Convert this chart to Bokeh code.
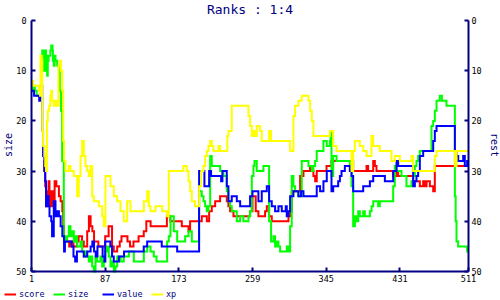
import math
from bokeh.plotting import figure
from bokeh.models import Range1d, LinearAxis, FixedTicker, Legend, LegendItem, Label
from bokeh.embed import file_html
from bokeh.resources import INLINE

# ---- data: (x where the rank starts, rank) step points per series ----
score_pts = [(15, 28), (16, 30), (17, 33), (18, 37), (19, 34), (20, 36), (21, 32), (22, 37), (23, 34), (24, 36),
             (25, 37), (26, 34), (27, 36), (28, 32), (30, 33), (33, 35), (35, 36), (37, 38), (38, 41), (39, 44),
             (45, 45), (47, 44), (50, 45), (54, 44), (56, 43), (60, 44), (62, 45), (66, 42), (68, 39), (70, 41),
             (72, 42), (74, 44), (79, 45), (87, 43), (91, 41), (95, 45), (97, 46), (101, 45), (104, 44), (106, 43),
             (113, 44), (116, 45), (120, 44), (126, 43), (132, 42), (135, 40), (140, 41), (159, 39), (163, 40),
             (176.4, 41), (184.2, 42), (186.1, 40), (199.7, 39), (205.6, 40), (208.3, 38), (211.4, 37), (215.3, 36),
             (221.1, 35), (228.9, 36), (230.8, 37), (232.8, 38), (236.7, 39), (256.1, 38), (258.9, 35), (262.7, 38),
             (265.8, 39), (273.6, 38), (275.6, 37), (278.3, 39), (281.4, 40), (300.9, 39), (302.8, 38), (304.7, 34),
             (314.5, 31), (318.4, 30), (326.1, 29), (328.1, 30), (330, 31), (332, 32), (333.9, 30), (345.3, 29),
             (351.1, 28), (376.4, 30), (392, 29), (393.9, 30), (399.8, 28), (401.7, 29), (403.6, 30), (423.1, 31),
             (427, 30), (428.9, 31), (446.4, 32), (454.2, 33), (458.1, 32), (460, 33), (462, 32), (465.9, 33),
             (469.8, 34), (471.7, 29), (511, 29)]

size_pts = [(1, 14), (3, 13), (5, 14), (7, 15), (12.5, 10), (13.5, 6), (15, 7), (16, 10), (17, 6), (18, 7),
            (19.3, 11), (20, 8), (21, 7), (23, 6), (24, 5), (25.5, 6), (26, 8), (27, 9), (28, 7), (29, 8),
            (31, 9), (33, 10), (34, 14), (35.5, 18), (36.8, 28), (38.7, 43), (40.7, 44), (42.6, 43), (44.6, 41),
            (46.5, 43), (48.5, 42), (50.4, 44), (52.3, 43), (54.3, 45), (58.2, 44), (60.1, 46), (62.1, 47),
            (64, 46), (66, 47), (67.9, 48), (69.8, 47), (71.8, 49), (73.7, 50), (75.7, 47), (77.6, 48), (81.5, 47),
            (83.5, 49), (85.4, 48), (87.3, 46), (89.3, 45), (91.2, 47), (93.2, 49), (95.1, 48), (97.1, 50),
            (99, 49), (101, 47), (104.9, 48), (108.7, 47), (114.6, 46), (120.4, 48), (132.1, 46), (136, 45),
            (139.9, 46), (143.7, 47), (146.9, 48), (159.3, 44), (161.2, 43), (163.2, 39), (167.1, 42), (171, 44),
            (180.3, 43), (184.2, 42), (188.1, 44), (196.6, 34), (199.7, 35), (201.7, 36), (203.6, 37), (205.6, 38),
            (207.5, 37), (209.5, 27), (211.4, 29), (221.1, 30), (225, 31), (228.9, 34), (230.8, 36), (232.8, 37),
            (234.7, 38), (240.6, 40), (244.5, 39), (248.3, 40), (254.2, 39), (256.1, 38), (258.1, 31), (260, 29),
            (261.2, 28), (263.9, 30), (271.7, 29), (278.3, 40), (280.6, 44), (283.4, 43), (285.3, 45), (287.2, 44),
            (289.2, 45), (291.1, 46), (298.9, 45), (300.9, 46), (302.8, 41), (304.7, 31), (306.7, 33), (308.6, 34),
            (312.5, 35), (316.4, 28), (324.2, 29), (328.1, 30), (330, 29), (332, 28), (333.9, 26), (341.7, 24),
            (345.6, 25), (349.2, 24), (350, 22), (351.1, 31), (353.1, 27), (357, 28), (372.5, 29), (374.5, 33),
            (376.4, 41), (378.4, 39), (380.3, 40), (382.3, 38), (384.2, 39), (388.1, 38), (390, 39), (395.9, 38),
            (397.8, 37), (399.8, 36), (405.6, 37), (407.5, 36), (423.1, 33), (425, 29), (427, 30), (432.8, 31),
            (438.6, 33), (444.5, 32), (446.4, 31), (448.4, 29), (450.3, 28), (452.2, 27), (454.2, 26), (467.8, 21),
            (469.8, 20), (471.7, 18), (473.7, 16), (477.5, 15), (480, 16), (485.3, 17), (495.1, 35), (496, 40),
            (497, 44), (498.9, 45), (509.4, 46), (511, 46)]

value_pts = [(1, 14), (4, 15), (10, 16), (12, 13), (13.5, 22), (14.5, 27), (16, 30), (17, 32), (18, 37),
             (19.5, 35), (21, 37), (22, 39), (24, 40), (25, 43), (27, 36), (29, 39), (31, 38), (33, 39), (35, 41),
             (37, 43), (39, 46), (40, 44), (48, 45), (50, 47), (52, 48), (54, 46), (62, 47), (66, 46), (70, 45),
             (72, 44), (74, 46), (76, 47), (78, 45), (84, 47), (86, 48), (87, 44), (93, 45), (95, 47), (97, 48),
             (103, 47), (109, 46), (132, 45), (136, 44), (153, 45), (171, 46), (196.6, 30), (202.8, 33),
             (208.3, 30), (210.6, 31), (222.3, 32), (223.8, 30), (228.9, 33), (230.8, 36), (234.7, 35), (240.6, 36),
             (244.5, 37), (256.1, 35), (258.9, 34), (265.8, 36), (269.7, 34), (275.6, 33), (278.3, 36), (281.4, 37),
             (285.3, 38), (289.2, 37), (293.1, 38), (297.7, 37), (298.9, 39), (300.9, 38), (302.8, 35), (306.7, 34),
             (312.5, 35), (315.6, 34), (318.4, 35), (333.9, 33), (337.8, 34), (341.7, 32), (345.6, 30), (351.1, 34),
             (353.1, 33), (358.9, 32), (360.9, 31), (362.8, 30), (366.7, 29), (372.5, 30), (374.5, 31), (376.4, 34),
             (388.1, 33), (395.9, 32), (399.8, 31), (413.4, 32), (423.1, 30), (427, 28), (428.9, 29), (446.4, 33),
             (448.4, 32), (450.3, 31), (452.2, 30), (454.2, 27), (458.1, 26), (469.8, 24), (471.7, 22), (473.7, 21),
             (495.1, 26), (497, 27), (499, 28), (504.8, 27), (506.7, 29), (509.4, 28), (511, 28)]

xp_pts = [(1, 13), (2, 12), (3, 13), (9.6, 14), (11, 15), (11.5, 7), (13, 8), (13.5, 22), (14.5, 25), (16, 27),
          (17, 29), (18, 30), (19, 20), (20, 18), (21.5, 17), (23, 15), (24, 14), (25, 16), (27, 17), (29, 16),
          (31, 17), (32.5, 9), (34, 8), (35.5, 10), (37, 14), (38, 24), (39, 28), (40.7, 30), (44.6, 29),
          (46.5, 30), (50.4, 31), (54.3, 35), (56.2, 31), (58.2, 27), (60.1, 24), (62.1, 27), (64, 29), (66, 30),
          (67.9, 31), (69.8, 29), (71.8, 35), (73.7, 36), (79.6, 37), (83.5, 39), (85.4, 41), (87.3, 31),
          (93.2, 33), (97.1, 35), (101, 36), (104.9, 38), (108.7, 40), (112.6, 36), (116.5, 38), (132.1, 36),
          (136, 34), (137.9, 37), (139.9, 38), (145.7, 37), (153.5, 38), (159.3, 39), (161.2, 30), (178.3, 29),
          (182.2, 30), (184.2, 32), (186.1, 34), (188.1, 36), (191.9, 37), (196.6, 33), (199, 30), (201.7, 29),
          (203.6, 27), (205.6, 26), (207.5, 25), (209.5, 24), (211.4, 25), (213.3, 26), (219.2, 25), (221.1, 26),
          (229.5, 23), (230.8, 22), (234.7, 17), (254.2, 19), (256.1, 21), (258.1, 23), (260, 22), (262, 23),
          (263.9, 21), (267.8, 22), (269.7, 24), (278.3, 22), (280.6, 24), (302.8, 26), (306.7, 19), (308.6, 17),
          (312.5, 16), (316.4, 15), (324.2, 16), (326.1, 18), (328.1, 20), (330, 23), (349.2, 22), (353.1, 25),
          (357, 26), (374.5, 30), (376.4, 26), (378.4, 24), (384.2, 25), (388.1, 26), (392, 27), (397.8, 23),
          (399.8, 25), (407.5, 26), (421.1, 28), (425, 27), (430.9, 28), (444.5, 27), (446.4, 30), (471.7, 27),
          (473.7, 26), (493.1, 26), (495.1, 29), (497, 26), (511, 26)]

x_ticks = [1, 87, 173, 259, 345, 431, 511]
y_ticks = [0, 10, 20, 30, 40, 50]
x_min, x_max = 1, 511
y_min, y_max = 0, 50
series_names = ["score", "size", "value", "xp"]
series_colors = ["#ff0000", "#00ff00", "#0000ff", "#ffff00"]
title_text = "Ranks : 1:4"
left_label = "size"
right_label = "rest"

NAVY = "#000080"
FONT = "DejaVu Sans Mono"
W, H = 500, 300
# plot-area pixel box inside the canvas (layout only)
PL, PR, PT, PB = 31, 468, 20, 271

sx = (PR - PL) / (x_max - x_min)
sy = (PB - PT) / (y_max - y_min)
x_range = Range1d(x_min - PL / sx, x_min - PL / sx + W / sx)
y_top = y_min - PT / sy
y_range = Range1d(y_top + H / sy, y_top)

p = figure(width=W, height=H, output_backend="svg", toolbar_location=None, title=None,
           x_range=x_range, y_range=y_range, x_axis_type=None, y_axis_type=None,
           min_border_left=0, min_border_right=0, min_border_top=0, min_border_bottom=0)
p.outline_line_color = None
p.background_fill_color = "white"
p.border_fill_color = "white"


def style_axis(ax, standoff):
    ax.axis_line_color = NAVY
    ax.axis_line_width = 2
    ax.major_tick_line_color = NAVY
    ax.major_tick_line_width = 2
    ax.major_tick_in = 4
    ax.major_tick_out = 0
    ax.minor_tick_line_color = None
    ax.major_label_text_font = FONT
    ax.major_label_text_font_size = "8.5px"
    ax.major_label_text_color = "black"
    ax.major_label_standoff = standoff


xax = LinearAxis(ticker=FixedTicker(ticks=x_ticks), fixed_location=y_max, bounds=(x_min, x_max))
style_axis(xax, 3)
p.add_layout(xax, "below")
lax = LinearAxis(ticker=FixedTicker(ticks=y_ticks), fixed_location=x_min, bounds=(y_min, y_max))
style_axis(lax, 5)
p.add_layout(lax, "left")
rax = LinearAxis(ticker=FixedTicker(ticks=y_ticks), fixed_location=x_max, bounds=(y_min, y_max))
style_axis(rax, 3)
p.add_layout(rax, "right")

renderers = []
for pts, color in zip([score_pts, size_pts, value_pts, xp_pts], series_colors):
    xs = [a for a, b in pts]
    ys = [b for a, b in pts]
    renderers.append(p.step(x=xs, y=ys, mode="after", line_color=color, line_width=2, line_join="miter"))

legend = Legend(items=[LegendItem(label=n, renderers=[r]) for n, r in zip(series_names, renderers)],
                location=(4, 1), orientation="horizontal",
                glyph_width=12, glyph_height=8, label_height=8, label_standoff=3, label_width=34,
                spacing=0, padding=0, margin=0,
                label_text_font=FONT, label_text_font_size="8.5px", label_text_color=NAVY,
                background_fill_alpha=0, border_line_alpha=0)
p.add_layout(legend)

p.add_layout(Label(x=(PL + PR) / 2, y=H - 8.8, x_units="screen", y_units="screen", text=title_text,
                   text_align="center", text_baseline="middle", text_font=FONT, text_font_size="13px",
                   text_color=NAVY))
p.add_layout(Label(x=7.5, y=H - 144.5, x_units="screen", y_units="screen", text=left_label, angle=math.pi / 2,
                   text_align="center", text_baseline="middle", text_font=FONT, text_font_size="10px",
                   text_color=NAVY))
p.add_layout(Label(x=493.5, y=H - 144.5, x_units="screen", y_units="screen", text=right_label,
                   angle=-math.pi / 2, text_align="center", text_baseline="middle", text_font=FONT,
                   text_font_size="10px", text_color=NAVY))

open("out.html", "w").write(file_html(p, INLINE))
